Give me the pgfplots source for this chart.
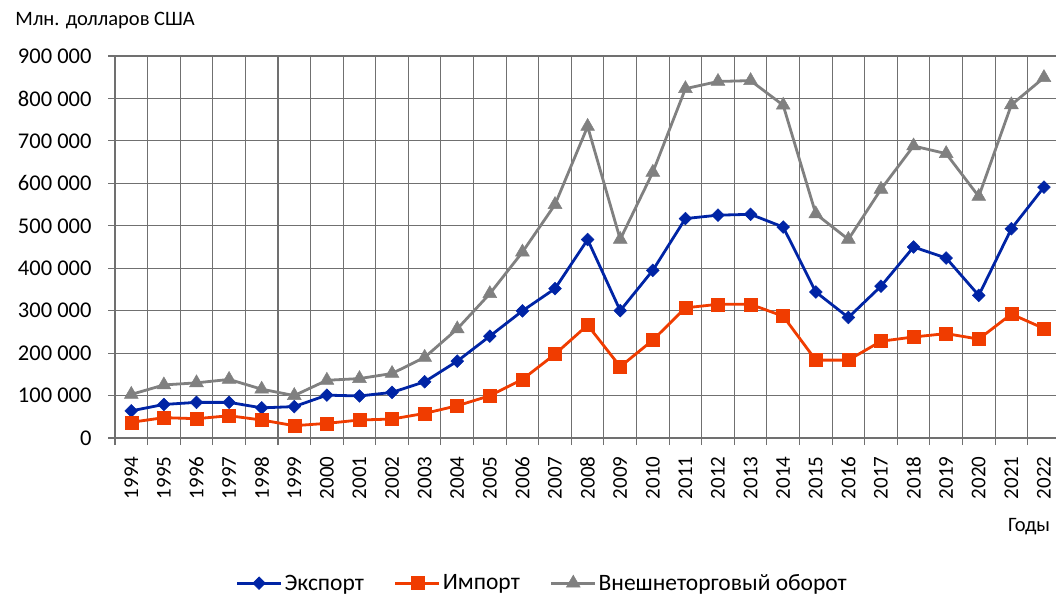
\documentclass[border=0pt]{standalone}
\usepackage{fontspec}
\setmainfont{Carlito}
\usepackage{pgfplots}
\pgfplotsset{compat=1.18}
\definecolor{expc}{RGB}{0,36,165}
\definecolor{impc}{RGB}{240,60,0}
\definecolor{totc}{RGB}{128,128,128}
\definecolor{gridc}{RGB}{112,112,112}
\begin{document}
\begin{tikzpicture}
\begin{axis}[
  at={(0,0)}, anchor=south west,
  scale only axis, width=941pt, height=382pt,
  xmin=1993.5, xmax=2022.37, ymin=0, ymax=900000,
  axis x line=bottom, axis y line=left,
  axis line style={-, draw=gridc, line width=1.1pt},
  tick align=outside,
  major tick length=7pt, minor tick length=7pt,
  xtick={1994,...,2022},
  xticklabels={1994,1995,1996,1997,1998,1999,2000,2001,2002,2003,2004,2005,2006,2007,2008,2009,2010,2011,2012,2013,2014,2015,2016,2017,2018,2019,2020,2021,2022},
  minor xtick={1993.5,1994.5,1995.5,1996.5,1997.5,1998.5,1999.5,2000.5,2001.5,2002.5,2003.5,2004.5,2005.5,2006.5,2007.5,2008.5,2009.5,2010.5,2011.5,2012.5,2013.5,2014.5,2015.5,2016.5,2017.5,2018.5,2019.5,2020.5,2021.5},
  every major x tick/.append style={draw=none},
  every minor x tick/.append style={draw=gridc, line width=1.1pt},
  every major y tick/.append style={draw=gridc, line width=1.1pt},
  xminorgrids, ymajorgrids,
  minor grid style={draw=gridc, line width=1.1pt},
  major grid style={draw=gridc, line width=1.1pt},
  ytick={0,100000,200000,300000,400000,500000,600000,700000,800000,900000},
  yticklabels={0,100 000,200 000,300 000,400 000,500 000,600 000,700 000,800 000,900 000},
  scaled y ticks=false, scaled x ticks=false,
  xticklabel shift=8pt,
  yticklabel shift=13pt,
  xticklabel style={rotate=90, anchor=east, font=\fontsize{21}{24}\selectfont},
  yticklabel style={font=\fontsize{22.5}{24}\selectfont},
  xlabel={Годы},
  every axis x label/.style={at={(axis description cs:0.9975,-0.233)}, anchor=east, font=\fontsize{20.5}{24}\selectfont},
  title={Млн. долларов США},
  every axis title/.style={at={(axis description cs:-0.1095,1.094)}, anchor=west, font=\fontsize{20.5}{24}\selectfont},
  legend style={at={(axis description cs:0.454,-0.38)}, anchor=center, draw=none, fill=none,
    legend columns=3, font=\fontsize{23.5}{26}\selectfont,
    /tikz/every even column/.append style={column sep=28pt}},
  legend image code/.code={\draw[mark repeat=2,mark phase=2,#1] plot coordinates {(0pt,0pt) (22pt,0pt) (44pt,0pt)};},
  clip=false,
]
\addplot[color=expc, line width=2.8pt, mark=square*, mark size=4.5pt, mark options={rotate=45, fill=expc, draw=expc, line width=0.5pt}]
coordinates {
(1994,64000)(1995,79000)(1996,84000)(1997,84000)(1998,71000)(1999,74000)(2000,101000)
(2001,99000)(2002,107500)(2003,132500)(2004,181000)(2005,240000)(2006,299500)(2007,352000)
(2008,467500)(2009,300000)(2010,395000)(2011,517000)(2012,525000)(2013,527000)(2014,497000)
(2015,344000)(2016,284000)(2017,357600)(2018,450000)(2019,424000)(2020,336000)(2021,493000)(2022,591000)
};
\addlegendentry{Экспорт}
\addplot[color=impc, line width=2.8pt, mark=square*, mark size=6.5pt, mark options={fill=impc, draw=impc, line width=0.5pt}]
coordinates {
(1994,37000)(1995,48000)(1996,45500)(1997,52500)(1998,42400)(1999,29000)(2000,34500)
(2001,42400)(2002,44700)(2003,58000)(2004,76000)(2005,99600)(2006,138000)(2007,197600)
(2008,266000)(2009,168000)(2010,230600)(2011,306700)(2012,315000)(2013,315000)(2014,287000)
(2015,183500)(2016,183500)(2017,228000)(2018,238000)(2019,246000)(2020,233000)(2021,292000)(2022,258000)
};
\addlegendentry{Импорт}
\addplot[color=totc, line width=2.8pt, mark=triangle*, mark size=8pt, mark options={fill=totc, draw=totc, line width=0.5pt}]
coordinates {
(1994,102700)(1995,125000)(1996,130000)(1997,138000)(1998,115000)(1999,100000)(2000,136000)
(2001,140000)(2002,152000)(2003,190000)(2004,257000)(2005,340000)(2006,438000)(2007,550000)
(2008,734000)(2009,468000)(2010,626000)(2011,823000)(2012,840000)(2013,842000)(2014,784000)
(2015,528000)(2016,468000)(2017,586000)(2018,688000)(2019,670000)(2020,569000)(2021,785000)(2022,849000)
};
\addlegendentry{Внешнеторговый оборот}
\end{axis}
\pgfresetboundingbox
\useasboundingbox (-115pt,-157pt) rectangle (941pt,438pt);
\end{tikzpicture}
\end{document}
